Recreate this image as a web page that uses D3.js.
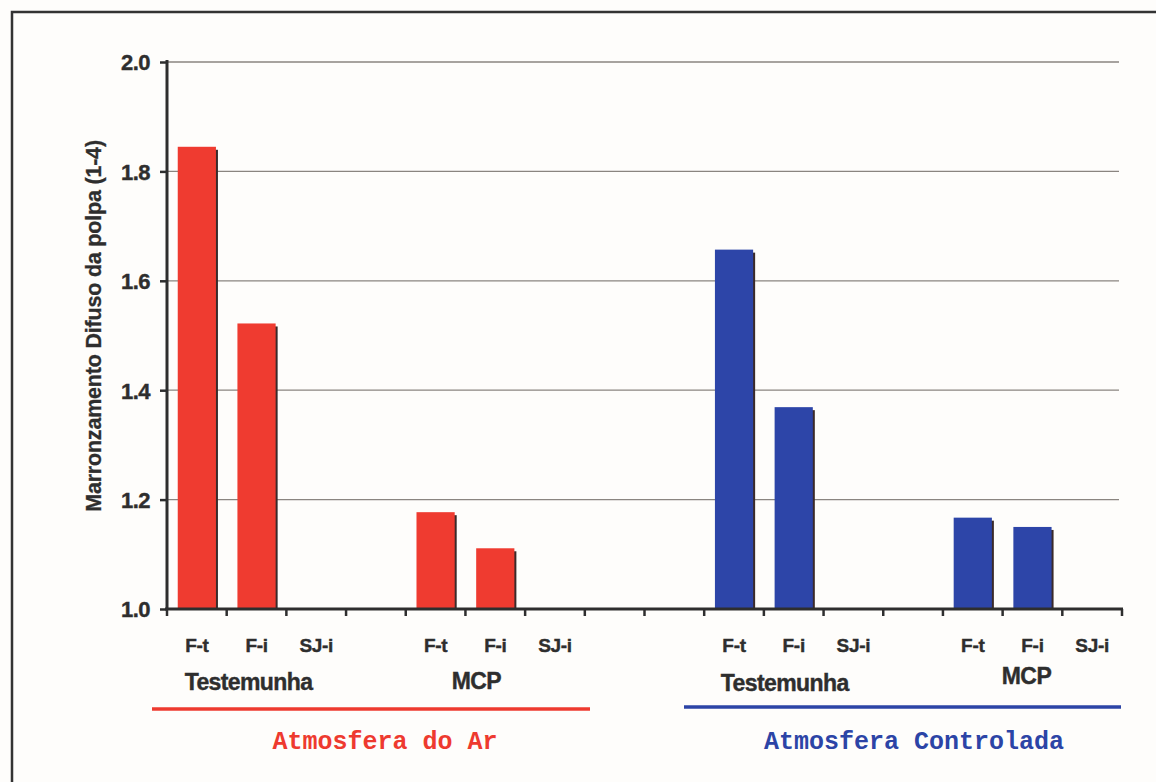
<!DOCTYPE html>
<html>
<head>
<meta charset="utf-8">
<script src="https://cdn.jsdelivr.net/npm/d3@7"></script>
<style>
  html, body { margin: 0; padding: 0; background: #fefdfb; }
  svg { display: block; }
</style>
</head>
<body>
<svg id="chart" width="1156" height="782"></svg>
<script>
// Slots along the x axis (16 bands; empty ones separate the groups)
const slots = ["A-T-Ft","A-T-Fi","A-T-SJi","gap1","A-M-Ft","A-M-Fi","A-M-SJi","gap2","gap3",
               "C-T-Ft","C-T-Fi","C-T-SJi","gap4","C-M-Ft","C-M-Fi","C-M-SJi"];
const slotLabels = ["F-t","F-i","SJ-i","","F-t","F-i","SJ-i","","",
                    "F-t","F-i","SJ-i","","F-t","F-i","SJ-i"];
// Browning values (scale 1-4); null = no bar
const airValues = [1.845, 1.522, null, null, 1.177, 1.111, null, null];
const caValues  = [null, 1.657, 1.369, null, null, 1.167, 1.150, null];
const yTicks = [1.0, 1.2, 1.4, 1.6, 1.8, 2.0];
const groupLabels = [
  { text: "Testemunha", from: "A-T-Ft", to: "A-T-SJi", dx: -8, y: 690 },
  { text: "MCP",        from: "A-M-Ft", to: "A-M-SJi", dx: -19, y: 689 },
  { text: "Testemunha", from: "C-T-Ft", to: "C-T-SJi", dx: -9, y: 691 },
  { text: "MCP",        from: "C-M-Ft", to: "C-M-SJi", dx: -6, y: 684 }
];
const atmospheres = [
  { text: "Atmosfera do Ar",      color: "#ee3a2f", x0: 152, x1: 590, tx: 385, ly: 709 },
  { text: "Atmosfera Controlada", color: "#2c44a6", x0: 684, x1: 1121, tx: 914, ly: 707 }
];

const svg = d3.select("#chart");
const margin = { left: 167, right: 1122, top: 62, bottom: 609 };

const x = d3.scaleBand().domain(slots).range([margin.left, margin.right]).paddingInner(0).paddingOuter(0);
const y = d3.scaleLinear().domain([1.0, 2.0]).range([margin.bottom, margin.top]);

const font = "'Liberation Sans', Arial, sans-serif";
const ink = "#2e2e2e";

// outer frame
svg.append("rect").attr("x", 12).attr("y", 12).attr("width", 1160).attr("height", 800)
  .attr("fill", "none").attr("stroke", "#333").attr("stroke-width", 2.5);

// horizontal gridlines
svg.append("g").selectAll("line").data(yTicks.filter(d => d > 1.0)).join("line")
  .attr("x1", margin.left).attr("x2", margin.right - 3)
  .attr("y1", d => y(d)).attr("y2", d => y(d))
  .attr("stroke", "#8a8580").attr("stroke-width", 1.3);

// bars
const bars = [];
slots.slice(0, 8).forEach((s, i) => { if (airValues[i] != null) bars.push({ slot: s, v: airValues[i], c: "#ef3b30" }); });
slots.slice(8).forEach((s, i) => { if (caValues[i] != null) bars.push({ slot: s, v: caValues[i], c: "#2d45a8" }); });

const bw = x.bandwidth() * 0.64;
const barG = svg.append("g");
// dark shadow on the right
barG.selectAll("rect.sh").data(bars).join("rect").attr("class", "sh")
  .attr("x", d => x(d.slot) + (x.bandwidth() - bw) / 2 + 2)
  .attr("y", d => y(d.v) + 3)
  .attr("width", bw).attr("height", d => y(1.0) - y(d.v) - 3)
  .attr("fill", "#3a2a2a");
barG.selectAll("rect.bar").data(bars).join("rect").attr("class", "bar")
  .attr("x", d => x(d.slot) + (x.bandwidth() - bw) / 2)
  .attr("y", d => y(d.v))
  .attr("width", bw).attr("height", d => y(1.0) - y(d.v))
  .attr("fill", d => d.c);

// y axis
const yAxis = svg.append("g").attr("transform", `translate(${margin.left},0)`)
  .call(d3.axisLeft(y).tickValues(yTicks).tickFormat(d3.format(".1f")).tickSize(7).tickPadding(10));
yAxis.select(".domain").attr("stroke", ink).attr("stroke-width", 3).attr("d", `M0,${margin.top - 2}V${margin.bottom}`);
yAxis.selectAll(".tick line").attr("stroke", ink).attr("stroke-width", 2.5);
yAxis.selectAll(".tick text").attr("font-family", font).attr("font-weight", "bold")
  .attr("font-size", 22).attr("letter-spacing", -0.5).attr("fill", ink).attr("dy", "0.36em")
  .attr("stroke", ink).attr("stroke-width", 0.4);

// x axis: ticks on band boundaries
const boundaries = slots.map(s => x(s)).concat([margin.right]);
const xg = svg.append("g");
xg.append("line").attr("x1", margin.left - 2).attr("x2", margin.right + 1)
  .attr("y1", y(1.0)).attr("y2", y(1.0)).attr("stroke", ink).attr("stroke-width", 3);
xg.selectAll("line.t").data(boundaries).join("line").attr("class", "t")
  .attr("x1", d => d).attr("x2", d => d)
  .attr("y1", y(1.0)).attr("y2", y(1.0) + 7)
  .attr("stroke", ink).attr("stroke-width", 2.5);

// category labels
svg.append("g").selectAll("text").data(slots.map((s, i) => ({ s, t: slotLabels[i] })).filter(d => d.t))
  .join("text")
  .attr("x", d => x(d.s) + x.bandwidth() / 2)
  .attr("y", 652)
  .attr("text-anchor", "middle")
  .attr("font-family", font).attr("font-weight", "bold").attr("font-size", 19)
  .attr("letter-spacing", -0.3).attr("fill", ink).attr("stroke", ink).attr("stroke-width", 0.4)
  .text(d => d.t);

// treatment group labels
svg.append("g").selectAll("text").data(groupLabels).join("text")
  .attr("x", d => (x(d.from) + x(d.to) + x.bandwidth()) / 2 + d.dx)
  .attr("y", d => d.y)
  .attr("text-anchor", "middle")
  .attr("font-family", font).attr("font-weight", "bold").attr("font-size", 23)
  .attr("letter-spacing", -0.6).attr("fill", ink).attr("stroke", ink).attr("stroke-width", 0.4)
  .text(d => d.text);

// atmosphere underline + titles
const atm = svg.append("g");
atm.selectAll("line").data(atmospheres).join("line")
  .attr("x1", d => d.x0).attr("x2", d => d.x1)
  .attr("y1", d => d.ly).attr("y2", d => d.ly)
  .attr("stroke", d => d.color).attr("stroke-width", 3.5);
atm.selectAll("text").data(atmospheres).join("text")
  .attr("x", d => d.tx)
  .attr("y", 749)
  .attr("text-anchor", "middle")
  .attr("font-family", "'Courier New', 'Nimbus Mono PS', FreeMono, 'Liberation Mono', monospace")
  .attr("font-weight", "bold").attr("font-size", 25)
  .attr("fill", d => d.color)
  .text(d => d.text);

// y axis title
svg.append("text")
  .attr("transform", `translate(101,326) rotate(-90)`)
  .attr("text-anchor", "middle")
  .attr("font-family", font).attr("font-weight", "bold").attr("font-size", 21.5)
  .attr("letter-spacing", -0.2).attr("fill", ink).attr("stroke", ink).attr("stroke-width", 0.3)
  .text("Marronzamento Difuso da polpa (1-4)");
</script>
</body>
</html>
